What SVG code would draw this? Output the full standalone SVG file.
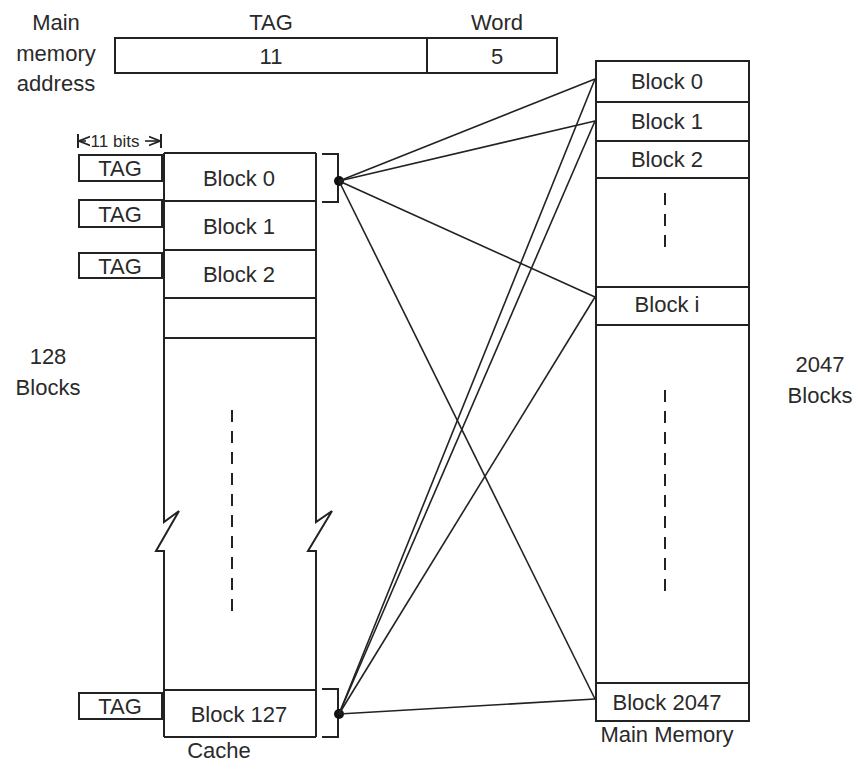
<svg xmlns="http://www.w3.org/2000/svg" width="857" height="764" viewBox="0 0 857 764">
<style>
text{font-family:"Liberation Sans",Arial,sans-serif;font-size:22px;fill:#2a2a2a;text-anchor:middle}
.s{font-size:17px}
.box{fill:#fff;stroke:#222;stroke-width:2}
.ln{fill:none;stroke:#222;stroke-width:2}
.cn{fill:none;stroke:#222;stroke-width:1.6}
.dash{fill:none;stroke:#222;stroke-width:2;stroke-dasharray:12,9}
</style>
<defs>
<marker id="ah" viewBox="0 0 10 10" refX="10" refY="5" markerWidth="7" markerHeight="7" orient="auto-start-reverse"><path d="M0,1 L10,5 L0,9" fill="none" stroke="#222" stroke-width="1.6"/></marker>
</defs>
<rect width="857" height="764" fill="#fff"/>

<g id="address">
<text x="56" y="30">Main</text>
<text x="56" y="61">memory</text>
<text x="56" y="91">address</text>
<rect class="box" x="115" y="38" width="442" height="35"/>
<line class="ln" x1="427" y1="38" x2="427" y2="73"/>
<text x="271" y="30">TAG</text>
<text x="497" y="30">Word</text>
<text x="271" y="64">11</text>
<text x="497" y="64">5</text>
</g>

<g id="bits">
<line class="ln" x1="78" y1="134" x2="78" y2="148" stroke-width="1.6"/>
<line class="ln" x1="161" y1="134" x2="161" y2="148" stroke-width="1.6"/>
<line class="cn" x1="79" y1="141" x2="86" y2="141" marker-start="url(#ah)"/>
<line class="cn" x1="145" y1="141" x2="160" y2="141" marker-end="url(#ah)"/>
<text class="s" x="115" y="147">11 bits</text>
</g>

<g id="cache">
<path class="ln" d="M164,153 L164,522 L179,511 L156,551 L164,551 L164,737"/>
<path class="ln" d="M316,153 L316,522 L332,511 L308,551 L316,551 L316,737"/>
<path class="ln" d="M164,153 H316 M164,201 H316 M164,250 H316 M164,298 H316 M164,338 H316 M164,690 H316 M164,737 H316"/>
<line class="dash" x1="232" y1="410" x2="232" y2="615"/>
<text x="239" y="186">Block 0</text>
<text x="239" y="234">Block 1</text>
<text x="239" y="282">Block 2</text>
<text x="239" y="722">Block 127</text>
<text x="219" y="758">Cache</text>
<text x="48" y="364">128</text>
<text x="48" y="395">Blocks</text>
</g>

<g id="tags">
<rect class="box" x="79" y="155" width="83" height="26"/>
<text x="120" y="176">TAG</text>
<rect class="box" x="79" y="200" width="83" height="27"/>
<text x="120" y="222">TAG</text>
<rect class="box" x="79" y="253" width="83" height="25"/>
<text x="120" y="274">TAG</text>
<rect class="box" x="79" y="693" width="83" height="26"/>
<text x="120" y="714">TAG</text>
</g>

<g id="brackets">
<path class="ln" d="M322,154 H338 V202 H322"/>
<path class="ln" d="M322,689 H338 V737 H322"/>
<circle cx="339" cy="181" r="5" fill="#111"/>
<circle cx="339" cy="714" r="5" fill="#111"/>
</g>

<g id="mainmemory">
<rect class="box" x="596" y="61" width="153" height="660"/>
<path class="ln" d="M596,102 H749 M596,141 H749 M596,178 H749 M596,287 H749 M596,325 H749 M596,683 H749"/>
<line class="dash" x1="665" y1="193" x2="665" y2="255" stroke-dasharray="12,10"/>
<line class="dash" x1="665" y1="390" x2="665" y2="592"/>
<text x="667" y="89">Block 0</text>
<text x="667" y="129">Block 1</text>
<text x="667" y="167">Block 2</text>
<text x="667" y="312">Block i</text>
<text x="667" y="710">Block 2047</text>
<text x="667" y="742">Main Memory</text>
<text x="820" y="372">2047</text>
<text x="820" y="403">Blocks</text>
</g>

<g id="connectors">
<line class="cn" x1="339" y1="181" x2="595" y2="79"/>
<line class="cn" x1="339" y1="181" x2="595" y2="121"/>
<line class="cn" x1="339" y1="181" x2="595" y2="297"/>
<line class="cn" x1="339" y1="181" x2="595" y2="699"/>
<line class="cn" x1="339" y1="714" x2="595" y2="79"/>
<line class="cn" x1="339" y1="714" x2="595" y2="121"/>
<line class="cn" x1="339" y1="714" x2="595" y2="297"/>
<line class="cn" x1="339" y1="714" x2="595" y2="699"/>
</g>
</svg>
